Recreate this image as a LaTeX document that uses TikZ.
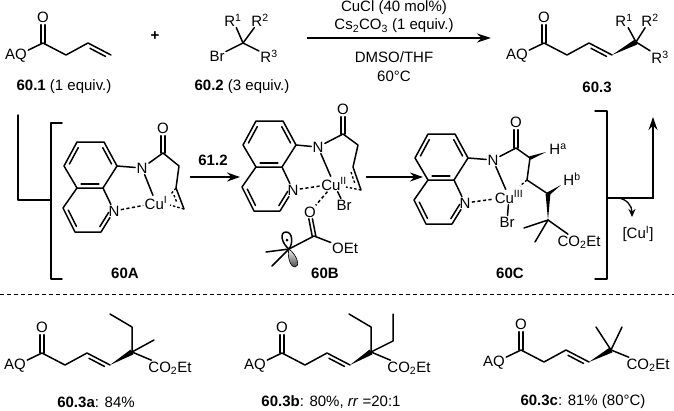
\documentclass[tikz,border=0pt]{standalone}
\usepackage{fontspec}
\setmainfont{Liberation Sans}
\usetikzlibrary{calc,arrows.meta}
\tikzset{
  bond/.style={line width=1.5pt,line cap=round,line join=round},
  atom/.style={inner sep=1.2pt,font=\fontsize{15}{16}\selectfont},
  num/.style={inner sep=0pt,font=\fontsize{15}{16}\selectfont},
  coordbond/.style={line width=1.5pt,dash pattern=on 3.2pt off 2.4pt},
  shortdash/.style={line width=1.3pt,dash pattern=on 2.5pt off 2pt},
  reaction/.style={line width=1.7pt,-{Stealth[length=14pt,width=9pt]}},
  stepto/.style={line width=1.5pt,-{Stealth[length=13pt,width=9pt]}},
  acyl/.pic={
    \node[atom] (aq) at (-27,13) {AQ};
    \node[atom] (o) at (0,-26) {O};
    \coordinate (c) at (0,0);
    \coordinate (m) at (23,12);
    \coordinate (d) at (45,0);
    \coordinate (e) at (68,12);
    \draw[bond] (aq) -- (c) -- (m) -- (d) -- (e);
    \dblo{c}{o}
    \inbond{d}{e}{-1}
  },
  quinoline/.pic={
    \coordinate (b1) at (77,142);
    \coordinate (b2) at (104,142);
    \coordinate (b3) at (117,166);
    \coordinate (b4) at (103,188);
    \coordinate (b5) at (77,188);
    \coordinate (b6) at (64,166);
    \coordinate (p2) at (101,232);
    \coordinate (p3) at (75,232);
    \coordinate (p4) at (63,208);
    \node[atom] (n) at (114,211) {N};
    \draw[bond] (b1) -- (b2) -- (b3) -- (b4) -- (b5) -- (b6) -- cycle;
    \draw[bond] (b4) -- (n) -- (p2) -- (p3) -- (p4) -- (b5);
    \inbond{b6}{b1}{-1}
    \inbond{b2}{b3}{-1}
    \inbond{b4}{b5}{-1}
    \inbond{p3}{p4}{-1}
    \inbond{n}{p2}{-1}
  }
}
% short inner line of a double bond; #3 picks the side
\newcommand{\inbond}[3]{%
  \draw[bond] ($(#1)!.16!(#2)!#3*3.8pt!90:(#2)$) -- ($(#2)!.16!(#1)!#3*-3.8pt!90:(#1)$);}
% carbonyl
\newcommand{\dblo}[2]{%
  \draw[bond] ($(#1)+(-1.8,0)$) -- ($(#2.south)+(-1.8,1)$);
  \draw[bond] ($(#1)+(1.8,0)$) -- ($(#2.south)+(1.8,1)$);}
% wedge, thin at the first name
\newcommand{\wedgebond}[3][2.8pt]{%
  \fill ($(#2)$) -- ($(#3)!#1!90:(#2)$) -- ($(#3)!#1!-90:(#2)$) -- cycle;}
\begin{document}
\begin{tikzpicture}[x=1pt,y=-1pt]
  \useasboundingbox (0,0) rectangle (674,410);
  % top scheme
  \pic (ma-) at (43,43) {acyl};
  \node[num] (maname) at (64,87) {\textbf{60.1} (1 equiv.)};
  \node[num] (plus) at (155,36) {\textbf{+}};
  \coordinate (br0) at (243,43);
  \node[atom] (brr1) at (233,20) {R\textsuperscript{1}};
  \node[atom] (brr2) at (260,20) {R\textsuperscript{2}};
  \node[atom] (brr3) at (269,56) {R\textsuperscript{3}};
  \node[atom] (brbr) at (217,56) {Br};
  \foreach \i in {brr1,brr2,brr3,brbr}
    \draw[bond] (br0) -- (\i);
  \node[num] (brname) at (242,87) {\textbf{60.2} (3 equiv.)};
  \coordinate (rxa) at (307,38);
  \coordinate (rxb) at (491,38);
  \draw[reaction] (rxa) -- (rxb);
  \node[num] (cond1) at (394,8) {CuCl (40 mol\%)};
  \node[num] (cond2) at (394,26) {Cs\textsubscript{2}CO\textsubscript{3} (1 equiv.)};
  \node[num] (cond3) at (394,57) {DMSO/THF};
  \node[num] (cond4) at (394,76) {60°C};
  \pic (pr-) at (544,43) {acyl};
  \coordinate (pr0) at (636,42);
  \wedgebond{pr-e}{pr0}
  \node[atom] (prr1) at (624,20) {R\textsuperscript{1}};
  \node[atom] (prr2) at (650,20) {R\textsuperscript{2}};
  \node[atom] (prr3) at (660,57) {R\textsuperscript{3}};
  \foreach \i in {prr1,prr2,prr3}
    \draw[bond] (pr0) -- (\i);
  \node[num] (prname) at (597,87) {\textbf{60.3}};
  % brackets
  \coordinate (la) at (18,115);
  \coordinate (lb) at (18,200);
  \coordinate (lc) at (51,200);
  \draw[bond] (la) -- (lb) -- (lc);
  \draw[bond] (62,123) -- (51,123) -- (51,279) -- (62,279);
  \draw[bond] (595,111) -- (607,111) -- (607,279) -- (595,279);
  % 60A
  \pic (qa-) at (0,0) {quinoline};
  \node[atom] (an) at (142,168) {N};
  \node[atom] (aco) at (163,128) {O};
  \coordinate (ac) at (163,153);
  \coordinate (am) at (179,166);
  \coordinate (ad) at (176,188);
  \coordinate (ae) at (184,209);
  \node[atom] (acu) at (156,203) {Cu\textsuperscript{I}};
  \draw[bond] (qa-b3) -- (an) -- (ac) -- (am) -- (ad) -- (ae);
  \dblo{ac}{aco}
  \draw[bond] (an) -- (acu);
  \draw[coordbond] (qa-n) -- (acu);
  \draw[shortdash] (ad) -- (171,194);
  \draw[shortdash] (ae) -- (170,205);
  \draw[shortdash] (174,195) -- (177,203);
  \node[num] (aname) at (125,273) {\textbf{60A}};
  \coordinate (ab1) at (190,177);
  \coordinate (ab2) at (240,177);
  \draw[stepto] (ab1) -- (ab2);
  \node[num] (abl) at (213,160) {\textbf{61.2}};
  % 60B
  \pic (qb-) at (179,-21) {quinoline};
  \node[atom] (bn) at (318,147) {N};
  \node[atom] (bco) at (343,109) {O};
  \coordinate (bc) at (343,134);
  \coordinate (bm) at (358,145);
  \coordinate (bd) at (353,167);
  \coordinate (be) at (361,190);
  \node[atom] (bcu) at (334,184) {Cu\textsuperscript{II}};
  \node[atom] (bbr) at (344,205) {Br};
  \node[atom] (bo) at (310,212) {O};
  \coordinate (bec) at (314,236);
  \node[atom] (boet) at (345,248) {OEt};
  \coordinate (brad) at (289,249);
  \coordinate (bme1) at (266,252);
  \coordinate (bme2) at (272,266);
  \draw[bond] (qb-b3) -- (bn) -- (bc) -- (bm) -- (bd) -- (be);
  \dblo{bc}{bco}
  \draw[bond] (bn) -- (bcu);
  \draw[coordbond] (qb-n) -- (bcu);
  \draw[coordbond] (bcu) -- (bo);
  \draw[bond] (bcu) -- (bbr);
  \draw[shortdash] (be) -- (346,187);
  \draw[shortdash] (351,172) -- (355,184);
  \draw[bond] (brad) -- (bec) -- (boet);
  \draw[bond] ($(bec)+(-1.8,0)$) -- ($(bo.south)+(-1.2,0)$);
  \draw[bond] ($(bec)+(1.8,0)$) -- ($(bo.south)+(2.4,0)$);
  \draw[bond] (brad) -- (bme1);
  \draw[bond] (brad) -- (bme2);
  \draw[line width=.6pt,top color=gray!10,bottom color=black!70]
    (brad) .. controls (287,256) and (290,267) .. (295,267)
    .. controls (300,267) and (298,256) .. (brad);
  \draw[bond,fill=white] (brad) .. controls (282,244) and (279,232) .. (286,232)
    .. controls (293,232) and (293,244) .. (brad);
  \fill (287,240) circle (1.5pt);
  \node[num] (bname) at (325,273) {\textbf{60B}};
  \coordinate (bc1) at (366,177);
  \coordinate (bc2) at (423,177);
  \draw[stepto] (bc1) -- (bc2);
  % 60C
  \pic (qc-) at (351,-8) {quinoline};
  \node[atom] (cn) at (493,160) {N};
  \node[atom] (cco) at (516,122) {O};
  \coordinate (cc) at (516,148);
  \coordinate (cm) at (530,158);
  \coordinate (cd) at (527,180);
  \coordinate (ce) at (548,194);
  \coordinate (cq) at (548,220);
  \node[atom] (cha) at (558,149) {H\textsuperscript{a}};
  \node[atom] (chb) at (572,179) {H\textsuperscript{b}};
  \node[atom] (ccu) at (509,197) {Cu\textsuperscript{III}};
  \node[atom] (cbr) at (507,222) {Br};
  \coordinate (cme1) at (524,228);
  \coordinate (cme2) at (535,242);
  \node[atom] (cest) at (579,242) {CO\textsubscript{2}Et};
  \draw[bond] (qc-b3) -- (cn) -- (cc) -- (cm) -- (cd) -- (ce);
  \dblo{cc}{cco}
  \draw[bond] (cn) -- (ccu);
  \draw[coordbond] (qc-n) -- (ccu);
  \draw[bond] (ccu) -- (cbr);
  \coordinate (cha0) at (546,152);
  \coordinate (chb0) at (561,185);
  \wedgebond[1.8pt]{cha0}{cm}
  \wedgebond[1.8pt]{chb0}{ce}
  \wedgebond[2.4pt]{cq}{ce}
  \draw[shortdash] (cd) -- (520,186);
  \foreach \i in {cme1,cme2}
    \draw[bond] (cq) -- (\i);
  \draw[bond] (cq) -- (cest);
  \node[num] (cname) at (510,273) {\textbf{60C}};
  % exit of the cycle
  \coordinate (ex1) at (607,198);
  \coordinate (ex2) at (653,198);
  \coordinate (ex3) at (653,117);
  \draw[stepto,line join=miter] (ex1) -- (ex2) -- (ex3);
  \node[atom] (cui) at (638,234) {[Cu\textsuperscript{I}]};
  \coordinate (cv1) at (618,198);
  \coordinate (cv2) at (632,217);
  \draw[line width=1.3pt,-{Stealth[length=8pt,width=7pt]}] (cv1) .. controls (627,199) and (632,206) .. (cv2);
  % separator
  \coordinate (sepa) at (0,294.5);
  \coordinate (sepb) at (674,294.5);
  \draw[line width=1.6pt,dash pattern=on 3.6pt off 3.4pt] (sepa) -- (sepb);
  % 60.3a
  \pic (xa-) at (42,353) {acyl};
  \coordinate (xa0) at (132,352);
  \coordinate (xa1) at (132,327);
  \coordinate (xa2) at (110,314);
  \coordinate (xa3) at (154,340);
  \node[atom] (xae) at (170,368) {CO\textsubscript{2}Et};
  \wedgebond{xa-e}{xa0}
  \draw[bond] (xa0) -- (xa1) -- (xa2);
  \draw[bond] (xa0) -- (xa3);
  \draw[bond] (xa0) -- (xae);
  \node[num] (xaname) at (96,402) {\textbf{60.3a}: 84\%};
  % 60.3b
  \pic (xb-) at (282,353) {acyl};
  \coordinate (xb0) at (371,352);
  \coordinate (xb1) at (371,327);
  \coordinate (xb2) at (349,314);
  \coordinate (xb3) at (393,341);
  \coordinate (xb4) at (393,314);
  \node[atom] (xbe) at (409,368) {CO\textsubscript{2}Et};
  \wedgebond{xb-e}{xb0}
  \draw[bond] (xb0) -- (xb1) -- (xb2);
  \draw[bond] (xb0) -- (xb3) -- (xb4);
  \draw[bond] (xb0) -- (xbe);
  \node[num] (xbname) at (331,402) {\textbf{60.3b}: 80\%, \textit{rr} =20:1};
  % 60.3c
  \pic (xc-) at (521,350) {acyl};
  \coordinate (xc0) at (611,350);
  \coordinate (xc1) at (596,327);
  \coordinate (xc2) at (622,327);
  \node[atom] (xce) at (648,365) {CO\textsubscript{2}Et};
  \wedgebond{xc-e}{xc0}
  \foreach \i in {xc1,xc2,xce}
    \draw[bond] (xc0) -- (\i);
  \node[num] (xcname) at (583,402) {\textbf{60.3c}: 81\% (80°C)};
\end{tikzpicture}
\end{document}
